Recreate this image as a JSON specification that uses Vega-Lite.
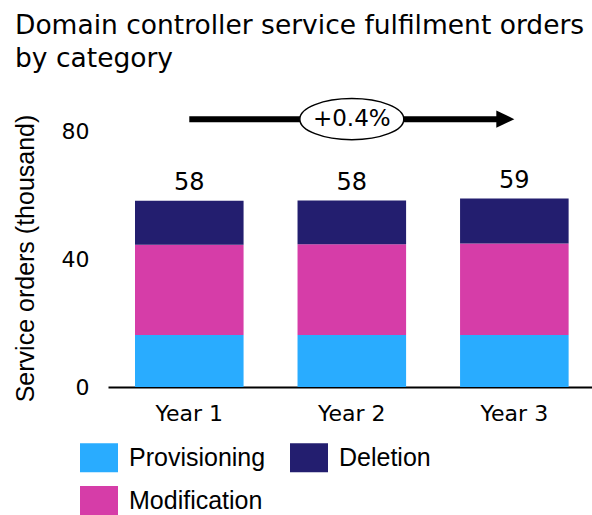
{
  "$schema": "https://vega.github.io/schema/vega-lite/v6.json",
  "width": 484,
  "height": 287,
  "autosize": "none",
  "padding": {"left": 108, "top": 100, "right": 0, "bottom": 128},
  "title": {
    "text": ["Domain controller service fulfilment orders", "by category"],
    "anchor": "start",
    "frame": "group",
    "font": "DejaVu Sans",
    "fontSize": 26.5,
    "fontWeight": "normal",
    "color": "#000",
    "lineHeight": 33.3,
    "dx": -93,
    "offset": 23
  },
  "config": {"view": {"stroke": null}, "font": "DejaVu Sans"},
  "data": {
    "values": [
      {"year": "Year 1", "category": "Provisioning", "value": 16.3},
      {"year": "Year 1", "category": "Modification", "value": 28.3},
      {"year": "Year 1", "category": "Deletion", "value": 13.8},
      {"year": "Year 2", "category": "Provisioning", "value": 16.3},
      {"year": "Year 2", "category": "Modification", "value": 28.5},
      {"year": "Year 2", "category": "Deletion", "value": 13.65},
      {"year": "Year 3", "category": "Provisioning", "value": 16.3},
      {"year": "Year 3", "category": "Modification", "value": 28.7},
      {"year": "Year 3", "category": "Deletion", "value": 14.1}
    ]
  },
  "layer": [
    {
      "mark": {"type": "bar"},
      "encoding": {
        "x": {
          "field": "year",
          "type": "nominal",
          "scale": {"paddingInner": 0.332, "paddingOuter": 0.155, "align": 0.536},
          "axis": {
            "title": null,
            "labelAngle": 0,
            "labelFontSize": 22,
            "labelFont": "DejaVu Sans",
            "labelColor": "#000",
            "labelPadding": 16,
            "ticks": false,
            "domainColor": "#000",
            "domainWidth": 2
          }
        },
        "y": {
          "field": "value",
          "type": "quantitative",
          "stack": "zero",
          "scale": {"domain": [0, 90], "nice": false},
          "axis": {
            "values": [0, 40, 80],
            "title": "Service orders (thousand)",
            "grid": false,
            "domain": false,
            "ticks": false,
            "labelFontSize": 22,
            "labelFont": "DejaVu Sans",
            "labelPadding": 19,
            "labelColor": "#000",
            "titleFont": "Liberation Sans",
            "titleFontSize": 25,
            "titleFontWeight": "normal",
            "titleColor": "#000",
            "titleX": -75,
            "titleY": 158,
            "titleAngle": -90,
            "titleAlign": "center",
            "titleBaseline": "alphabetic"
          }
        },
        "color": {
          "field": "category",
          "type": "nominal",
          "scale": {
            "domain": ["Provisioning", "Deletion", "Modification"],
            "range": ["#29ACFF", "#231E6F", "#D63DA8"]
          },
          "legend": {
            "title": null,
            "orient": "none",
            "legendX": -28,
            "legendY": 338.5,
            "columns": 2,
            "direction": "horizontal",
            "symbolType": "M-1,-0.76L1,-0.76L1,0.76L-1,0.76Z",
            "symbolSize": 1444,
            "symbolStrokeWidth": 0,
            "symbolOpacity": 1,
            "labelFont": "Liberation Sans",
            "labelFontSize": 25,
            "labelColor": "#000",
            "labelOffset": 11,
            "labelLimit": 300,
            "columnPadding": 24,
            "rowPadding": 9,
            "padding": 0
          }
        },
        "order": {"field": "category", "sort": "descending"}
      }
    },
    {
      "mark": {"type": "text", "fontSize": 24, "dy": -10.5, "baseline": "alphabetic", "font": "DejaVu Sans", "color": "#000"},
      "encoding": {
        "x": {"field": "year", "type": "nominal"},
        "y": {"aggregate": "sum", "field": "value", "type": "quantitative"},
        "text": {"aggregate": "sum", "field": "value", "type": "quantitative", "format": ".0f"}
      }
    },
    {
      "data": {"values": [{}]},
      "mark": {"type": "rule", "strokeWidth": 6, "color": "#000", "x2Offset": -16},
      "encoding": {
        "x": {"datum": "Year 1", "type": "nominal"},
        "x2": {"datum": "Year 3"},
        "y": {"datum": 84, "type": "quantitative"}
      }
    },
    {
      "data": {"values": [{}]},
      "mark": {"type": "point", "shape": "M-1,-0.95L1,0L-1,0.95Z", "size": 324, "filled": true, "color": "#000", "opacity": 1, "xOffset": -9},
      "encoding": {
        "x": {"datum": "Year 3", "type": "nominal"},
        "y": {"datum": 84, "type": "quantitative"}
      }
    },
    {
      "data": {"values": [{"change": "+0.4%"}]},
      "layer": [
        {
          "mark": {"type": "point", "shape": "M-1,0A1,0.395 0 1,0 1,0A1,0.395 0 1,0 -1,0Z", "size": 10816, "filled": true, "fill": "#fff", "stroke": "#000", "strokeWidth": 1.5, "opacity": 1},
          "encoding": {
            "x": {"datum": "Year 2", "type": "nominal"},
            "y": {"datum": 84, "type": "quantitative"}
          }
        },
        {
          "mark": {"type": "text", "fontSize": 23, "font": "DejaVu Sans", "baseline": "middle", "color": "#000"},
          "encoding": {
            "x": {"datum": "Year 2", "type": "nominal"},
            "y": {"datum": 84, "type": "quantitative"},
            "text": {"field": "change"}
          }
        }
      ]
    }
  ]
}
